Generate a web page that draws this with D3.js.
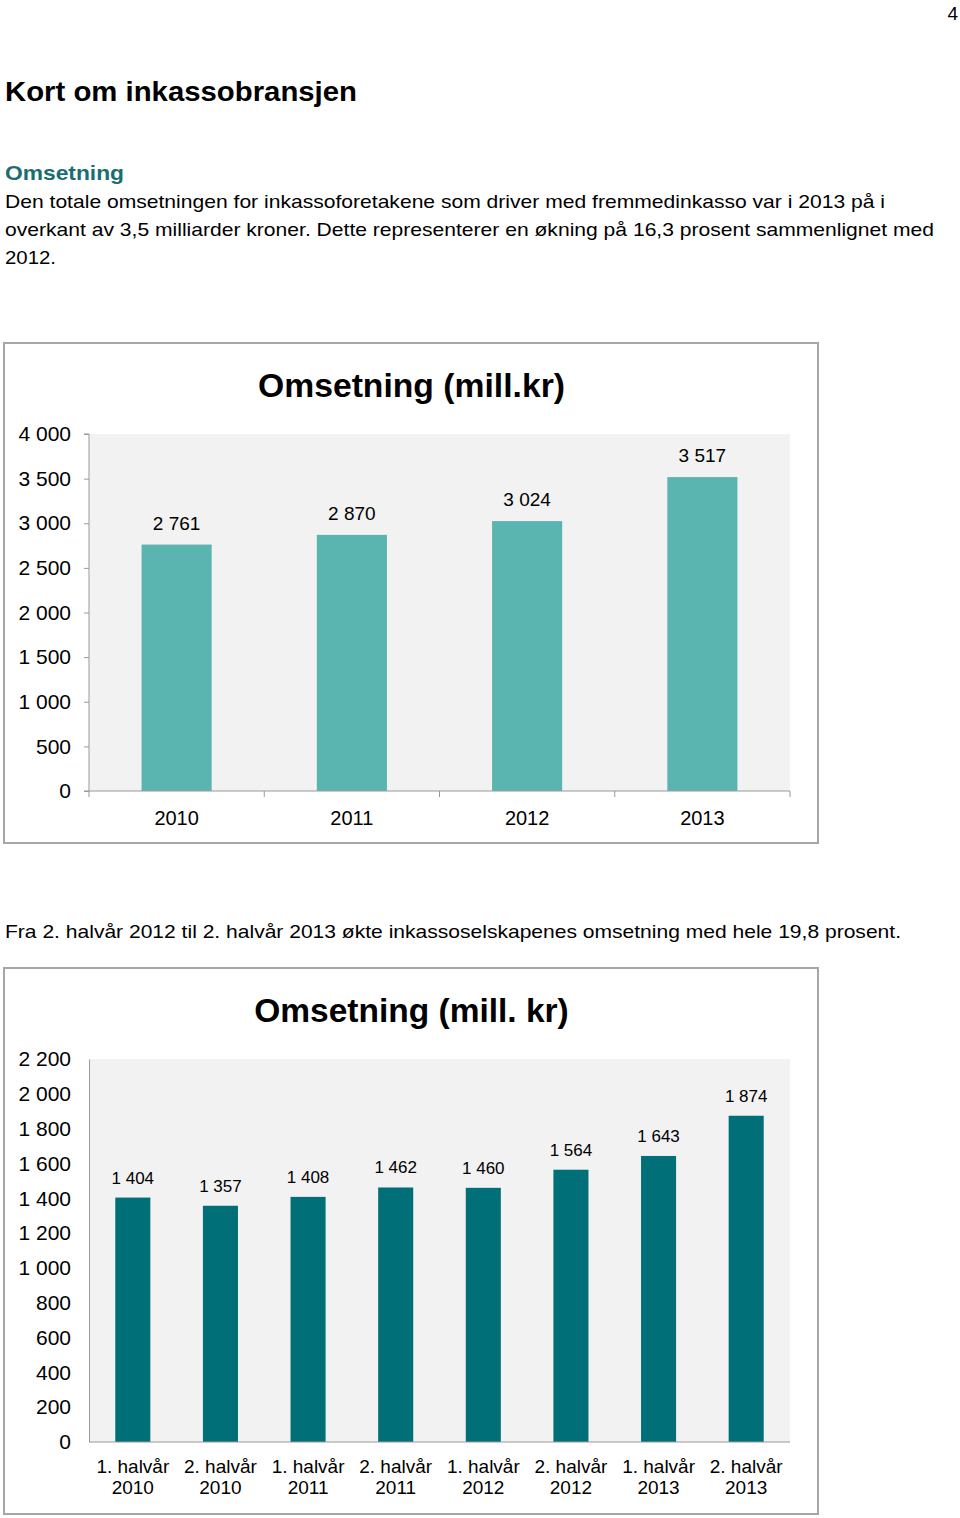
<!DOCTYPE html>
<html>
<head>
<meta charset="utf-8">
<script src="https://cdn.jsdelivr.net/npm/d3@7"></script>
<style>
  html, body { margin: 0; padding: 0; background: #fff; }
  svg { display: block; font-family: "Liberation Sans", Arial, sans-serif; }
</style>
</head>
<body>
<svg id="page" width="960" height="1518"></svg>
<script>
// ---- data ----
const yearCategories = ["2010", "2011", "2012", "2013"];
const yearValues = [2761, 2870, 3024, 3517];
const yearTicks = [0, 500, 1000, 1500, 2000, 2500, 3000, 3500, 4000];

const halfCategories = [
  ["1. halvår", "2010"], ["2. halvår", "2010"],
  ["1. halvår", "2011"], ["2. halvår", "2011"],
  ["1. halvår", "2012"], ["2. halvår", "2012"],
  ["1. halvår", "2013"], ["2. halvår", "2013"]
];
const halfValues = [1404, 1357, 1408, 1462, 1460, 1564, 1643, 1874];
const halfTicks = [0, 200, 400, 600, 800, 1000, 1200, 1400, 1600, 1800, 2000, 2200];

const chart1Title = "Omsetning (mill.kr)";
const chart2Title = "Omsetning (mill. kr)";

const fmt = v => d3.format(",")(v).replace(/,/g, " ");

const svg = d3.select("#page");

// ---- page text ----
svg.append("text").attr("x", 958).attr("y", 20).attr("text-anchor", "end")
  .attr("font-size", 19).text("4");
svg.append("text").attr("x", 5).attr("y", 101).attr("font-size", 28)
  .attr("font-weight", "bold").attr("textLength", 352).attr("lengthAdjust", "spacingAndGlyphs")
  .text("Kort om inkassobransjen");
svg.append("text").attr("x", 5).attr("y", 180).attr("font-size", 21)
  .attr("font-weight", "bold").attr("fill", "#1a6e70")
  .attr("textLength", 119).attr("lengthAdjust", "spacingAndGlyphs").text("Omsetning");
const para = [
  ["Den totale omsetningen for inkassoforetakene som driver med fremmedinkasso var i 2013 på i", 208, 880],
  ["overkant av 3,5 milliarder kroner. Dette representerer en økning på 16,3 prosent sammenlignet med", 236, 929],
  ["2012.", 264, 51],
  ["Fra 2. halvår 2012 til 2. halvår 2013 økte inkassoselskapenes omsetning med hele 19,8 prosent.", 938, 896]
];
para.forEach(([t, y, w]) => {
  svg.append("text").attr("x", 5).attr("y", y).attr("font-size", 19)
    .attr("textLength", w).attr("lengthAdjust", "spacingAndGlyphs").text(t);
});

// ---- chart 1 ----
(function () {
  const g = svg.append("g");
  g.append("rect").attr("x", 4).attr("y", 343).attr("width", 814).attr("height", 500)
    .attr("fill", "#fff").attr("stroke", "#a6a6a6").attr("stroke-width", 2);
  const x = d3.scaleBand().domain(yearCategories).range([89, 790]).paddingInner(0.6).paddingOuter(0.3);
  const y = d3.scaleLinear().domain([0, 4000]).range([791, 434]);
  g.append("rect").attr("x", 89).attr("y", y(4000)).attr("width", 701).attr("height", y(0) - y(4000))
    .attr("fill", "#f2f2f2");
  g.append("text").attr("x", 411.5).attr("y", 397).attr("text-anchor", "middle")
    .attr("font-size", 33.7).attr("font-weight", "bold").text(chart1Title);

  g.selectAll("rect.bar").data(yearValues).join("rect").attr("class", "bar")
    .attr("x", (d, i) => x(yearCategories[i])).attr("width", x.bandwidth())
    .attr("y", d => y(d)).attr("height", d => y(0) - y(d)).attr("fill", "#5ab5b1");
  g.selectAll("text.val").data(yearValues).join("text").attr("class", "val")
    .attr("x", (d, i) => x(yearCategories[i]) + x.bandwidth() / 2)
    .attr("y", d => y(d) - 15).attr("text-anchor", "middle").attr("font-size", 19)
    .text(d => fmt(d));

  const yAxis = g.append("g").attr("transform", "translate(89,0)")
    .call(d3.axisLeft(y).tickValues(yearTicks).tickSize(5).tickPadding(13).tickFormat(fmt));
  yAxis.select(".domain").attr("stroke", "#999").attr("d", `M-5,${y(4000)}H0V${y(0)}H-5`);
  yAxis.selectAll(".tick line").attr("stroke", "#999");
  yAxis.selectAll(".tick text").attr("font-size", 21).attr("font-family", null).attr("fill", "#000");

  const xb = d3.scaleLinear().domain([0, 4]).range([89, 790]);
  const xAxis = g.append("g").attr("transform", `translate(0,${y(0)})`);
  xAxis.append("path").attr("d", `M89,6V0H790V6`).attr("stroke", "#999").attr("fill", "none");
  xAxis.selectAll("line").data(d3.range(1, 4)).join("line")
    .attr("x1", d => xb(d)).attr("x2", d => xb(d)).attr("y1", 0).attr("y2", 6).attr("stroke", "#999");
  xAxis.selectAll("text").data(yearCategories).join("text")
    .attr("x", d => x(d) + x.bandwidth() / 2).attr("y", 34).attr("text-anchor", "middle")
    .attr("font-size", 20).text(d => d);
})();

// ---- chart 2 ----
(function () {
  const g = svg.append("g");
  g.append("rect").attr("x", 4).attr("y", 968).attr("width", 814).attr("height", 546)
    .attr("fill", "#fff").attr("stroke", "#a6a6a6").attr("stroke-width", 2);
  const keys = halfCategories.map(d => d.join(" "));
  const x = d3.scaleBand().domain(keys).range([89, 790]).paddingInner(0.6).paddingOuter(0.3);
  const y = d3.scaleLinear().domain([0, 2200]).range([1442, 1059]);
  g.append("rect").attr("x", 89).attr("y", y(2200)).attr("width", 701).attr("height", y(0) - y(2200))
    .attr("fill", "#f2f2f2");
  g.append("text").attr("x", 411.5).attr("y", 1022).attr("text-anchor", "middle")
    .attr("font-size", 33.5).attr("font-weight", "bold").text(chart2Title);

  g.selectAll("rect.bar").data(halfValues).join("rect").attr("class", "bar")
    .attr("x", (d, i) => x(keys[i])).attr("width", x.bandwidth())
    .attr("y", d => y(d)).attr("height", d => y(0) - y(d)).attr("fill", "#006f78");
  g.selectAll("text.val").data(halfValues).join("text").attr("class", "val")
    .attr("x", (d, i) => x(keys[i]) + x.bandwidth() / 2)
    .attr("y", d => y(d) - 14).attr("text-anchor", "middle").attr("font-size", 17)
    .text(d => fmt(d));

  const yAxis = g.append("g").attr("transform", "translate(89,0)")
    .call(d3.axisLeft(y).tickValues(halfTicks).tickSize(0).tickPadding(18).tickFormat(fmt));
  yAxis.select(".domain").attr("stroke", "#999");
  yAxis.selectAll(".tick text").attr("font-size", 21).attr("font-family", null).attr("fill", "#000");

  const xAxis = g.append("g").attr("transform", `translate(0,${y(0)})`);
  xAxis.append("path").attr("d", `M89,0H790`).attr("stroke", "#999").attr("fill", "none");
  const lab = xAxis.selectAll("text").data(halfCategories).join("text")
    .attr("text-anchor", "middle").attr("font-size", 19);
  lab.append("tspan").attr("x", (d, i) => x(keys[i]) + x.bandwidth() / 2).attr("y", 31).text(d => d[0]);
  lab.append("tspan").attr("x", (d, i) => x(keys[i]) + x.bandwidth() / 2).attr("y", 52).text(d => d[1]);
})();
</script>
</body>
</html>
